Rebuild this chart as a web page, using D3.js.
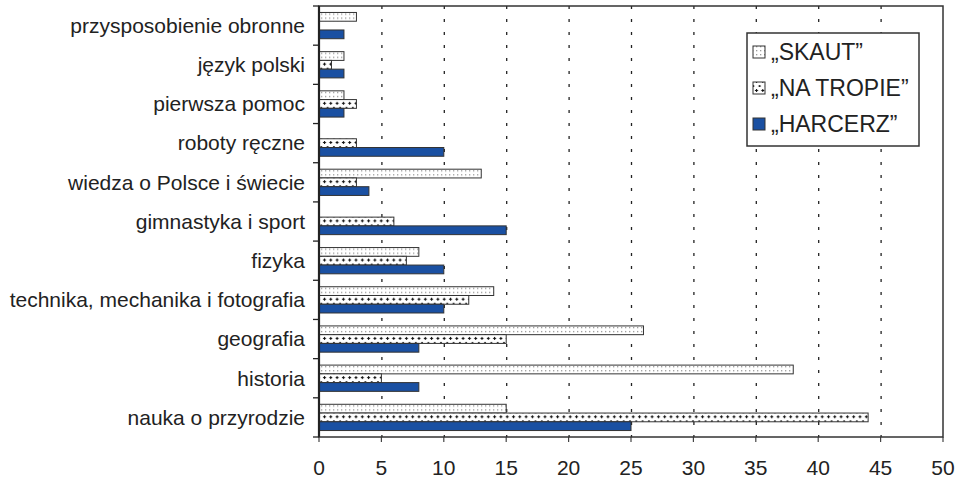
<!DOCTYPE html>
<html>
<head>
<meta charset="utf-8">
<script src="https://cdn.jsdelivr.net/npm/d3@7"></script>
<style>
html,body{margin:0;padding:0;background:#fff;}
svg{display:block;font-family:"Liberation Sans",Arial,sans-serif;}
</style>
</head>
<body>
<svg id="chart" width="964" height="479"></svg>
<script>
const categories = [
  "przysposobienie obronne",
  "język polski",
  "pierwsza pomoc",
  "roboty ręczne",
  "wiedza o Polsce i świecie",
  "gimnastyka i sport",
  "fizyka",
  "technika, mechanika i fotografia",
  "geografia",
  "historia",
  "nauka o przyrodzie"
];
const seriesNames = ["„SKAUT”", "„NA TROPIE”", "„HARCERZ”"];
const skaut    = [3, 2, 2, 0, 13, 0, 8, 14, 26, 38, 15];
const naTropie = [0, 1, 3, 3, 3, 6, 7, 12, 15, 5, 44];
const harcerz  = [2, 2, 2, 10, 4, 15, 10, 10, 8, 8, 25];
const xTicks = [0, 5, 10, 15, 20, 25, 30, 35, 40, 45, 50];

const series = [skaut, naTropie, harcerz];
const fills = ["url(#pSkaut)", "url(#pTropie)", "#1a50a2"];

const svg = d3.select("#chart");
const m = {left: 319, right: 943, top: 6, bottom: 437};

const defs = svg.append("defs");
const p1 = defs.append("pattern").attr("id", "pSkaut").attr("patternUnits", "userSpaceOnUse")
  .attr("width", 4).attr("height", 4);
p1.append("rect").attr("width", 4).attr("height", 4).attr("fill", "#fff");
p1.append("rect").attr("x", 1).attr("y", 1).attr("width", 1.3).attr("height", 1.3).attr("fill", "#9a9a9a");

const p2 = defs.append("pattern").attr("id", "pTropie").attr("patternUnits", "userSpaceOnUse")
  .attr("width", 6.3).attr("height", 9);
p2.append("rect").attr("width", 6.3).attr("height", 9).attr("fill", "#fff");
p2.append("path").attr("d", "M1.7,3.5h3M3.2,2v3").attr("stroke", "#111").attr("stroke-width", 1.1);
p2.append("circle").attr("cx", 0).attr("cy", 8).attr("r", 1.1).attr("fill", "#222");
p2.append("circle").attr("cx", 6.3).attr("cy", 8).attr("r", 1.1).attr("fill", "#222");

const x = d3.scaleLinear().domain([0, 50]).range([m.left, m.right]);
const y = d3.scaleBand().domain(categories).range([m.top, m.bottom]).paddingInner(0.33).paddingOuter(0.165);
const yIn = d3.scaleBand().domain([0, 1, 2]).range([0, y.bandwidth()]);

// gridlines
svg.append("g").selectAll("line").data(xTicks.filter(t => t > 0 && t < 50)).join("line")
  .attr("x1", d => x(d) + 0.5).attr("x2", d => x(d) + 0.5)
  .attr("y1", m.top).attr("y2", m.bottom)
  .attr("stroke", "#222").attr("stroke-width", 1.3).attr("stroke-dasharray", "3,10");

// bottom ticks
svg.append("g").selectAll("line").data(xTicks).join("line")
  .attr("x1", d => x(d)).attr("x2", d => x(d))
  .attr("y1", m.bottom).attr("y2", m.bottom + 5)
  .attr("stroke", "#444").attr("stroke-width", 1.2);

// bars
const groups = svg.append("g").selectAll("g").data(categories).join("g")
  .attr("transform", d => `translate(0,${y(d)})`);
groups.each(function(cat, i) {
  const g = d3.select(this);
  series.forEach((s, j) => {
    if (s[i] > 0) {
      g.append("rect")
        .attr("x", x(0)).attr("y", yIn(j))
        .attr("width", x(s[i]) - x(0)).attr("height", yIn.bandwidth())
        .attr("fill", fills[j]).attr("stroke", "#333").attr("stroke-width", 1);
    }
  });
});

// frame
svg.append("rect").attr("x", m.left).attr("y", m.top).attr("width", m.right - m.left).attr("height", m.bottom - m.top)
  .attr("fill", "none").attr("stroke", "#333").attr("stroke-width", 1.5);

// y axis
const yAxis = svg.append("g").attr("transform", `translate(${m.left},0)`);
yAxis.append("line").attr("y1", m.top).attr("y2", m.bottom).attr("stroke", "#222").attr("stroke-width", 2.2);
const bounds = d3.range(categories.length + 1).map(i => m.top + i * (m.bottom - m.top) / categories.length);
yAxis.selectAll(".tk").data(bounds).join("line").attr("class", "tk")
  .attr("x1", -6).attr("x2", 0).attr("y1", d => d).attr("y2", d => d)
  .attr("stroke", "#222").attr("stroke-width", 1.3);
yAxis.selectAll("text").data(categories).join("text")
  .attr("x", -14).attr("y", d => y(d) + y.bandwidth() / 2)
  .attr("dy", "0.35em").attr("text-anchor", "end")
  .attr("font-size", 21).attr("fill", "#222").text(d => d);

// x axis labels
svg.append("g").selectAll("text").data(xTicks).join("text")
  .attr("x", d => x(d)).attr("y", 475)
  .attr("text-anchor", "middle").attr("font-size", 21).attr("fill", "#222").text(d => d);

// legend
const lg = svg.append("g").attr("transform", "translate(747,33)");
lg.append("rect").attr("width", 172).attr("height", 113).attr("fill", "#fff")
  .attr("stroke", "#333").attr("stroke-width", 1.5);
seriesNames.forEach((n, j) => {
  const yy = 19 + j * 36;
  lg.append("rect").attr("x", 6).attr("y", yy - 6).attr("width", 12).attr("height", 12)
    .attr("fill", fills[j]).attr("stroke", "#333").attr("stroke-width", 1);
  lg.append("text").attr("x", 24).attr("y", yy).attr("dy", "0.36em")
    .attr("font-size", 23).attr("fill", "#222").text(n);
});
</script>
</body>
</html>
